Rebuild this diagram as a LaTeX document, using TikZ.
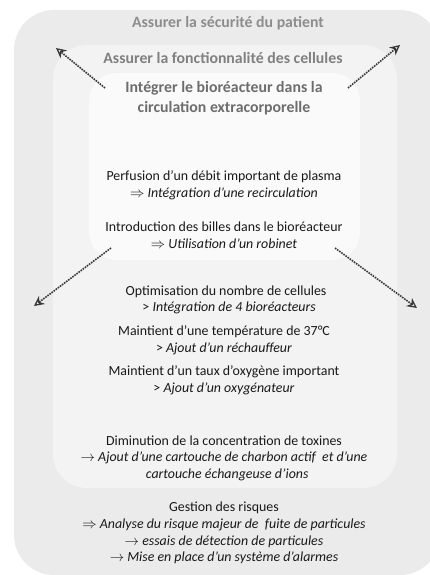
\documentclass[tikz,border=0pt]{standalone}
\usepackage{fontspec}
\setmainfont{Carlito}
\usetikzlibrary{arrows.meta}
\definecolor{zoneA}{HTML}{EBEBEB}
\definecolor{zoneB}{HTML}{F3F3F3}
\definecolor{zoneC}{HTML}{FAFAFA}
\definecolor{titlegray}{HTML}{808080}
\definecolor{arrowgray}{HTML}{383838}
\tikzset{
	zonetitle/.style={font=\bfseries\fontsize{15.8}{20}\selectfont, text=titlegray, align=center, inner sep=1pt},
	item/.style={font=\fontsize{13.9}{16.6}\selectfont, text=black!90, align=center, inner sep=1pt},
	spread/.style={draw=arrowgray, line width=1.6pt, densely dotted, -{Stealth[open, length=10pt, width=10pt, line width=1.3pt]}}
}
\begin{document}
\begin{tikzpicture}[x=1pt,y=-1pt]
		\useasboundingbox (0,0) rectangle (430,575);
		
		% zones
		\fill[zoneA, rounded corners=40pt] (14,10) rectangle (440,575);
		\fill[zoneB, rounded corners=34pt] (53,45) rectangle (397,488);
		\fill[zoneC, rounded corners=28pt] (89,73) rectangle (360,260);
		
		% titles
		\node[zonetitle, text=titlegray!90!white] (patient) at (228,23) {Assurer la sécurité du patient};
		\node[zonetitle] (cellules) at (223,58) {Assurer la fonctionnalité des cellules};
		\node[zonetitle, text=titlegray!85!black] (integrer) at (224,98) {Intégrer le bioréacteur dans la\\circulation extracorporelle};
		
		% items
		\node[item] (perfusion) at (224,185) {Perfusion d’un débit important de plasma\\$\Rightarrow$ \textit{Intégration d’une recirculation}};
		\node[item] (billes) at (224,235) {Introduction des billes dans le bioréacteur\\$\Rightarrow$ \textit{Utilisation d’un robinet}};
		\node[item] (nombre) at (226,300) {Optimisation du nombre de cellules\\\ \ {>} \textit{Intégration de 4 bioréacteurs}};
		\node[item] (temperature) at (224,340) {Maintient d’une température de 37°C\\{>} \textit{Ajout d’un réchauffeur}};
		\node[item] (oxygene) at (224,380) {Maintient d’un taux d’oxygène important\\{>} \textit{Ajout d’un oxygénateur}};
		\node[item] (toxines) at (224,458) {Diminution de la concentration de toxines\\$\rightarrow$ \textit{Ajout d’une cartouche de charbon actif\ \ et d’une}\\\ \ \textit{cartouche échangeuse d’ions}};
		\node[item] (risques) at (224,533) {Gestion des risques\\$\Rightarrow$ \textit{Analyse du risque majeur de\ \ fuite de particules}\\$\rightarrow$ \textit{essais de détection de particules}\\$\rightarrow$ \textit{Mise en place d’un système d’alarmes}};
		
		% arrows
		\coordinate (s1) at (105,88);
		\coordinate (s2) at (348,88);
		\coordinate (s3) at (111,248);
		\coordinate (s4) at (335,248);
		\coordinate (tl) at (56,48);
		\coordinate (tr) at (400,45);
		\coordinate (bl) at (34,306);
		\coordinate (br) at (417,308);
		\draw[spread] (s1) -- (tl);
		\draw[spread] (s2) -- (tr);
		\draw[spread] (s3) -- (bl);
		\draw[spread] (s4) -- (br);
	\end{tikzpicture}
\end{document}
